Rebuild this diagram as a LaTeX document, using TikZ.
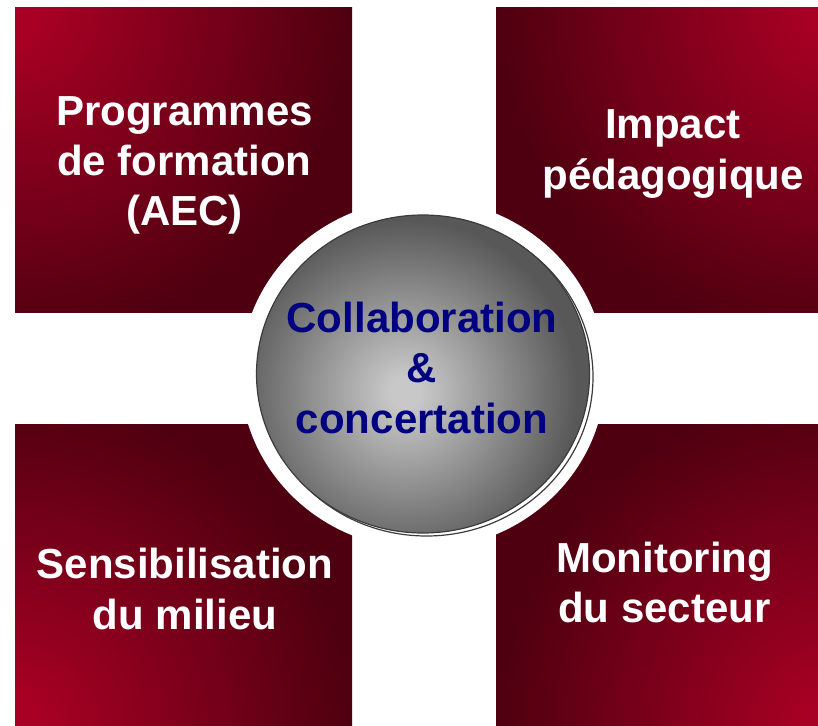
\documentclass[tikz,border=0pt]{standalone}
\usepackage{fontspec}
\setmainfont{Liberation Sans}

\definecolor{redhi}{RGB}{168,0,36}
\definecolor{redlo}{RGB}{78,0,16}
\definecolor{disclight}{RGB}{200,200,200}
\definecolor{discdark}{RGB}{88,88,88}
\definecolor{discline}{RGB}{60,60,60}
\definecolor{navytext}{RGB}{0,0,128}

% glow from the outer corner of each tile (used at natural size)
\pgfdeclareradialshading{cornerglow}{\pgfpoint{0bp}{0bp}}{%
  color(0bp)=(redhi); color(25bp)=(redhi); color(335bp)=(redlo); color(470bp)=(redlo)}
% soft light centre of the hub (used at natural size)
\pgfdeclareradialshading{discglow}{\pgfpoint{0bp}{0bp}}{%
  color(0bp)=(disclight); color(15bp)=(disclight); color(172bp)=(discdark); color(200bp)=(discdark)}

\begin{document}
\begin{tikzpicture}[x=1pt,y=-1pt,
  tiletext/.style={align=center, inner sep=0pt, text=white,
    font=\bfseries\fontsize{42}{50.4}\selectfont},
  hubtext/.style={tiletext, text=navytext},
  hubedge/.style={draw=discline, line width=1.2pt},
  glow/.style={inner sep=0pt, outer sep=0pt}]
\useasboundingbox (0,0) rectangle (818,725);

% four tiles, each lit from its outer corner
\begin{scope}
  \clip (15,8) rectangle (352,312);
  \node[glow] (glowA) at (15,8) {\pgfuseshading{cornerglow}};
\end{scope}
\begin{scope}
  \clip (496,8) rectangle (818,312);
  \node[glow] (glowB) at (833,8) {\pgfuseshading{cornerglow}};
\end{scope}
\begin{scope}
  \clip (15,424) rectangle (352,725);
  \node[glow] (glowC) at (15,728) {\pgfuseshading{cornerglow}};
\end{scope}
\begin{scope}
  \clip (496,424) rectangle (818,725);
  \node[glow] (glowD) at (833,728) {\pgfuseshading{cornerglow}};
\end{scope}

% white ring cut into the tiles
\fill[white] (423,374) ellipse [x radius=182.5pt, y radius=175pt];

% hub: offset outline behind, shaded disc on top
\draw[hubedge, fill=white] (426.5,377) ellipse [x radius=166.5pt, y radius=159pt];
\begin{scope}
  \clip (423,374) ellipse [x radius=166.5pt, y radius=159pt];
  \node[glow] (glowhub) at (405,392) {\pgfuseshading{discglow}};
\end{scope}
\draw[hubedge] (423,374) ellipse [x radius=166.5pt, y radius=159pt];

% labels
\node[tiletext] (formation) at (184.5,165.5) {Programmes\\de formation\\(AEC)};
\node[tiletext] (impact) at (673,154) {Impact\\pédagogique};
\node[tiletext] (milieu) at (185,589) {Sensibilisation\\du milieu};
\node[tiletext] (secteur) at (664.5,582.3) {Monitoring\\du secteur};
\node[hubtext] (hub) at (422,367.7) {Collaboration\\\&\\concertation};
\end{tikzpicture}
\end{document}
